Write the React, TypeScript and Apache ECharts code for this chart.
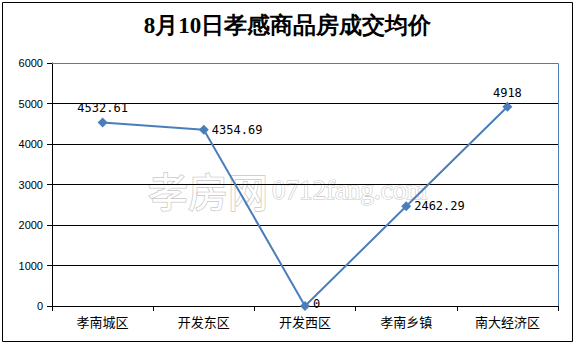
import React, { useEffect, useRef } from "react";
import * as echarts from "echarts";

const categories = ["孝南城区", "开发东区", "开发西区", "孝南乡镇", "南大经济区"];
const prices = [4532.61, 4354.69, 0, 2462.29, 4918];
const labelPositions = ["top", "right", "right", "right", "top"];
const yTicks = { min: 0, max: 6000, interval: 1000 };
const titleText = "8月10日孝感商品房成交均价";

export default function App() {
  const ref = useRef<HTMLDivElement>(null);
  useEffect(() => {
    const chart = echarts.init(ref.current!, null, { renderer: "svg" });
    chart.setOption({
      animation: false,
      backgroundColor: "#fff",
      title: {
        text: titleText,
        left: "center",
        top: 9,
        textStyle: { fontFamily: "serif", fontWeight: "bold", fontSize: 23, color: "#000" },
      },
      grid: { left: 52, right: 17, top: 63, bottom: 38 },
      xAxis: {
        type: "category",
        data: categories,
        boundaryGap: true,
        axisLine: { lineStyle: { color: "#000", width: 1 } },
        axisTick: { show: true, length: 5, inside: false, lineStyle: { color: "#000" } },
        axisLabel: { color: "#000", fontSize: 13, margin: 9, fontFamily: "Noto Sans CJK SC" },
      },
      yAxis: {
        type: "value",
        min: yTicks.min,
        max: yTicks.max,
        interval: yTicks.interval,
        axisLine: { show: true, lineStyle: { color: "#000", width: 1 } },
        axisTick: { show: true, length: 5, lineStyle: { color: "#000" } },
        axisLabel: {
          color: "#000",
          fontSize: 11,
          margin: 9,
          fontFamily: "Liberation Sans",
          formatter: (v: number) => String(v),
        },
        splitLine: { show: true, lineStyle: { color: "#000", width: 1 } },
      },
      graphic: [
        {
          type: "rect",
          shape: { x: 2.5, y: 2.5, width: 570, height: 339 },
          style: { fill: "none", stroke: "#000", lineWidth: 1 },
          z: 10,
        },
        {
          type: "polyline",
          shape: { points: [[52, 63.5], [558.5, 63.5], [558.5, 306]] },
          style: { fill: "none", stroke: "#4a7ebb", lineWidth: 1 },
          z: 1,
        },
        {
          type: "text",
          x: 148,
          y: 170,
          style: {
            text: "孝房网",
            fontSize: 40,
            fontFamily: "Noto Sans CJK SC",
            fill: "#fff",
            stroke: "#c8c8c8",
            lineWidth: 1.5,
          },
          z: 0,
        },
        {
          type: "text",
          x: 272,
          y: 176,
          style: {
            text: "0712fang.com",
            fontSize: 27,
            fontFamily: "serif",
            fill: "#fff",
            stroke: "#c8c8c8",
            lineWidth: 1.2,
          },
          z: 0,
        },
      ],
      series: [
        {
          type: "line",
          data: prices.map((v, i) => ({
            value: v,
            label: { position: labelPositions[i], offset: v === 0 ? [0, -2] : [0, 0] },
          })),
          symbol: "diamond",
          symbolSize: 10,
          lineStyle: { color: "#4a7ebb", width: 2 },
          itemStyle: { color: "#4a7ebb" },
          label: {
            show: true,
            color: "#000",
            fontSize: 12,
            fontFamily: "DejaVu Sans Mono",
            distance: 3,
          },
          z: 5,
        },
      ],
    });
    return () => chart.dispose();
  }, []);
  return <div ref={ref} style={{ width: 575, height: 344, position: "absolute", left: 0, top: 0 }} />;
}
